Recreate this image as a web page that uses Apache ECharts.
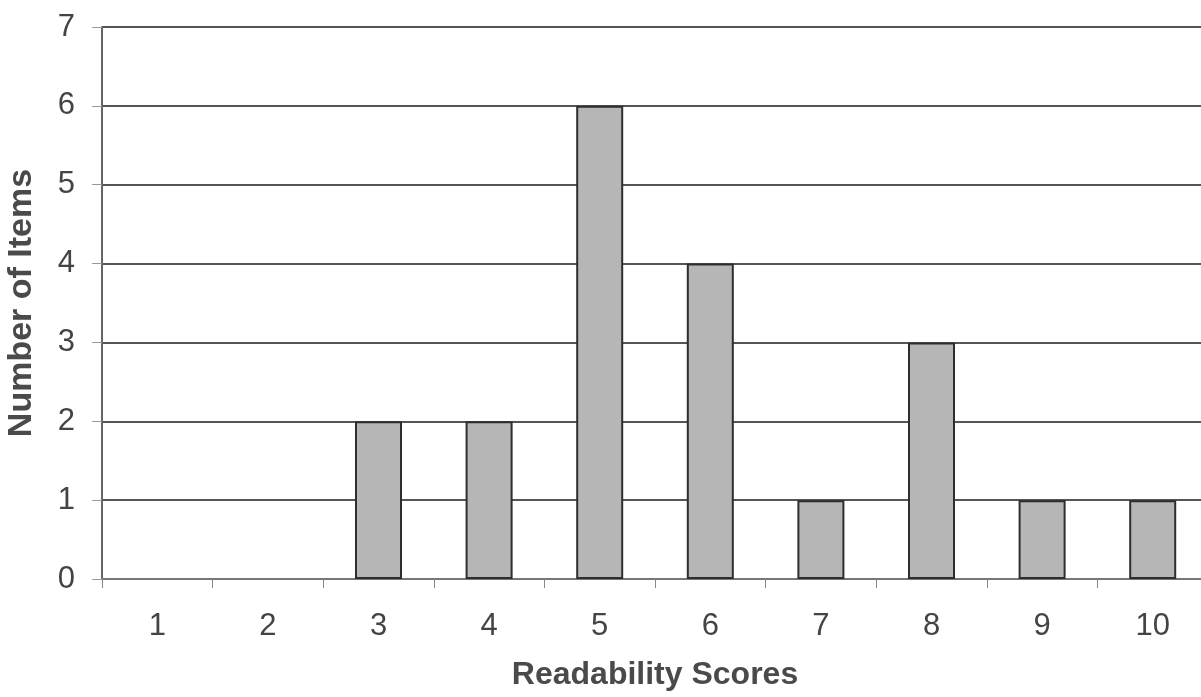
<!DOCTYPE html>
<html>
<head>
<meta charset="utf-8">
<script src="https://cdn.jsdelivr.net/npm/echarts@6/dist/echarts.min.js"></script>
<style>
html,body{margin:0;padding:0;background:#fff;}
#chart{width:1201px;height:697px;}
</style>
</head>
<body>
<div id="chart"></div>
<script>
const categories = ['1','2','3','4','5','6','7','8','9','10'];
const itemCounts = [0,0,2,2,6,4,1,3,1,1];
const xTitle = 'Readability Scores';
const yTitle = 'Number of Items';

const chart = echarts.init(document.getElementById('chart'), null, {renderer:'canvas'});
chart.setOption({
  animation:false,
  backgroundColor:'#ffffff',
  grid:{left:102, top:27, height:552, width:1106, containLabel:false, outerBoundsMode:'none'},
  xAxis:{
    type:'category',
    data:categories,
    boundaryGap:true,
    name:xTitle,
    nameLocation:'middle',
    nameGap:80,
    nameTextStyle:{fontFamily:'Liberation Sans, Arial, sans-serif', fontSize:32, fontWeight:'bold', color:'#4a4a4a'},
    axisLine:{show:true, lineStyle:{color:'#777', width:2}},
    axisTick:{show:true, alignWithLabel:false, length:9, lineStyle:{color:'#888', width:1}},
    axisLabel:{margin:32, fontFamily:'Liberation Sans, Arial, sans-serif', fontSize:31, color:'#444'}
  },
  yAxis:{
    type:'value',
    min:0, max:7, interval:1,
    name:yTitle,
    nameLocation:'middle',
    nameGap:63,
    nameRotate:90,
    nameTextStyle:{fontFamily:'Liberation Sans, Arial, sans-serif', fontSize:34, fontWeight:'bold', color:'#4a4a4a'},
    axisLine:{show:true, lineStyle:{color:'#666', width:2}},
    axisTick:{show:true, length:10, lineStyle:{color:'#999', width:1}},
    axisLabel:{margin:27, fontFamily:'Liberation Sans, Arial, sans-serif', fontSize:31, color:'#444'},
    splitLine:{show:true, lineStyle:{color:'#555', width:2}}
  },
  series:[{
    type:'bar',
    data:itemCounts.map(v => v === 0 ? '-' : v),
    barWidth:'42.5%',
    itemStyle:{color:'#b6b6b6', borderColor:'#2e2e2e', borderWidth:2},
    z:3
  }]
});
</script>
</body>
</html>
